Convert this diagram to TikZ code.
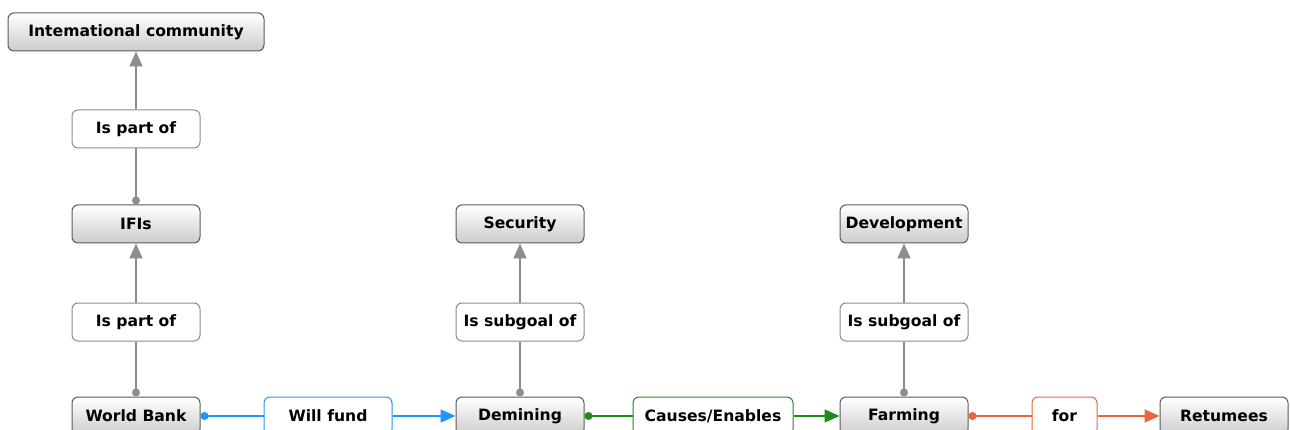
\documentclass[tikz,border=0pt]{standalone}
\usepackage{fontspec}
\setmainfont{DejaVu Sans}
\usetikzlibrary{arrows.meta}
\definecolor{edgegray}{HTML}{8C8C8C}
\definecolor{edgeblue}{HTML}{1E96FF}
\definecolor{edgegreen}{HTML}{1E8C1E}
\definecolor{edgeorange}{HTML}{EA6440}
\definecolor{boxline}{HTML}{5A5A5A}
\tikzset{
  concept/.style={draw=boxline, line width=1pt, rounded corners=6pt,
    top color=white, bottom color=black!20, minimum width=128pt,
    minimum height=38pt, inner sep=0pt, font=\fontsize{15.6}{18}\selectfont\bfseries},
  relation/.style={draw=#1, line width=1pt, rounded corners=6pt, fill=white,
    minimum width=128pt, minimum height=38pt, inner sep=0pt,
    font=\fontsize{15.6}{18}\selectfont\bfseries},
  link/.style={draw=#1, line width=1.3pt},
  from/.style={{Circle[length=8pt,color=#1]}-},
  to/.style={-{Triangle[length=15pt,width=13pt,color=#1]}},
}
\begin{document}
\begin{tikzpicture}[x=1pt,y=-1pt]
\useasboundingbox (0,0) rectangle (1290,430);
\clip (0,0) rectangle (1290,430);
% concepts
\node[concept, minimum width=256pt] (intl) at (136,32) {Intemational community};
\node[concept] (ifis) at (136,224) {IFIs};
\node[concept] (wb) at (136,416) {World Bank};
\node[concept] (sec) at (520,224) {Security};
\node[concept] (dem) at (520,416) {Demining};
\node[concept] (dev) at (904,224) {Development};
\node[concept] (farm) at (904,416) {Farming};
\node[concept] (ret) at (1224,416) {Retumees};
% relations
\node[relation=edgegray] (p1) at (136,129) {Is part of};
\node[relation=edgegray] (p2) at (136,322) {Is part of};
\node[relation=edgegray] (s1) at (520,322) {Is subgoal of};
\node[relation=edgegray] (s2) at (904,322) {Is subgoal of};
\node[relation=edgeblue] (fund) at (328,416) {Will fund};
\node[relation=edgegreen, minimum width=160pt] (cause) at (713,416) {Causes/Enables};
\node[relation=edgeorange, minimum width=65pt] (for) at (1064.5,416) {for};
% connectors
\draw[link=edgegray, from=edgegray] (ifis) -- (p1);
\draw[link=edgegray, to=edgegray] (p1) -- (intl);
\draw[link=edgegray, from=edgegray] (wb) -- (p2);
\draw[link=edgegray, to=edgegray] (p2) -- (ifis);
\draw[link=edgegray, from=edgegray] (dem) -- (s1);
\draw[link=edgegray, to=edgegray] (s1) -- (sec);
\draw[link=edgegray, from=edgegray] (farm) -- (s2);
\draw[link=edgegray, to=edgegray] (s2) -- (dev);
\draw[link=edgeblue, from=edgeblue] (wb) -- (fund);
\draw[link=edgeblue, to=edgeblue] (fund) -- (dem);
\draw[link=edgegreen, from=edgegreen] (dem) -- (cause);
\draw[link=edgegreen, to=edgegreen] (cause) -- (farm);
\draw[link=edgeorange, from=edgeorange] (farm) -- (for);
\draw[link=edgeorange, to=edgeorange] (for) -- (ret);
\end{tikzpicture}
\end{document}
